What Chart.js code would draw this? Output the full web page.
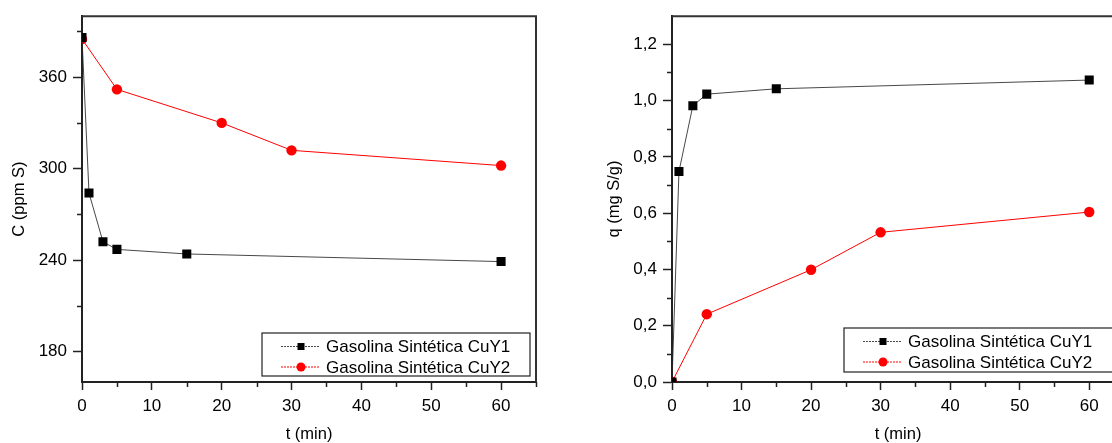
<!DOCTYPE html>
<html>
<head>
<meta charset="utf-8">
<script src="https://cdn.jsdelivr.net/npm/chart.js@4"></script>
<style>
  html, body { margin: 0; padding: 0; background: #fff; overflow: hidden; width: 1112px; height: 443px; }
  canvas { position: absolute; top: 0; }
  #chartC { left: 0; }
  #chartQ { left: 560px; }
</style>
</head>
<body>
<canvas id="chartC" width="556" height="443"></canvas>
<canvas id="chartQ" width="584" height="443"></canvas>
<script>
// Data
const seriesNames = ['Gasolina Sintética CuY1', 'Gasolina Sintética CuY2'];

const tCuY1 = [0, 1, 3, 5, 15, 60];
const tCuY2 = [0, 5, 20, 30, 60];

// concentration C (ppm S)
const cCuY1 = [386, 284, 252, 247, 244, 239];
const cCuY2 = [385, 352, 330, 312, 302];

// adsorbed q (mg S/g)
const qCuY1 = [0, 0.748, 0.982, 1.023, 1.042, 1.073];
const qCuY2 = [0, 0.241, 0.399, 0.532, 0.604];

// ticks
const tTicks = [0, 10, 20, 30, 40, 50, 60];
const tMinor = [5, 15, 25, 35, 45, 55, 65];
const cTicks = [180, 240, 300, 360];
const cMinor = [210, 270, 330, 390];
const qTicks = [0, 0.2, 0.4, 0.6, 0.8, 1.0, 1.2];
const qMinor = [0.1, 0.3, 0.5, 0.7, 0.9, 1.1];

const FONT = "'Liberation Sans', Arial, sans-serif";
const black = 'rgba(40,40,40,0.85)';
const red = '#ff0000';

const pts = (xs, ys) => xs.map((x, i) => ({ x: x, y: ys[i] }));

// minor ticks + top/right frame
const framePlugin = {
    id: 'frame',
    afterDraw(chart) {
        const { ctx, chartArea: a, scales } = chart;
        const o = chart.options.plugins.frame;
        ctx.save();
        ctx.strokeStyle = '#222';
        ctx.lineWidth = 1.5;
        ctx.beginPath();
        o.minorX.forEach(v => {
            const px = Math.round(scales.x.getPixelForValue(v)) + 0.5;
            ctx.moveTo(px, a.bottom);
            ctx.lineTo(px, a.bottom + 5);
        });
        o.minorY.forEach(v => {
            const py = Math.round(scales.y.getPixelForValue(v)) + 0.5;
            ctx.moveTo(a.left, py);
            ctx.lineTo(a.left - 5, py);
        });
        ctx.stroke();
        ctx.strokeStyle = '#333';
        ctx.lineWidth = 2;
        ctx.beginPath();
        ctx.moveTo(a.left, a.top);
        ctx.lineTo(a.right, a.top);
        ctx.lineTo(a.right, a.bottom);
        ctx.stroke();
        ctx.restore();
    }
};

// boxed legend inside the plot, bottom right
const boxLegend = {
    id: 'boxLegend',
    afterDraw(chart) {
        const { ctx, chartArea: a } = chart;
        const o = chart.options.plugins.boxLegend;
        const x0 = a.right - o.right - o.width;
        const y0 = a.bottom - o.bottom - o.height;
        ctx.save();
        ctx.fillStyle = '#fff';
        ctx.fillRect(x0, y0, o.width, o.height);
        ctx.strokeStyle = '#222';
        ctx.lineWidth = 1.2;
        ctx.strokeRect(x0, y0, o.width, o.height);
        chart.data.datasets.forEach((ds, i) => {
            const cy = y0 + 13.5 + i * 20.5;
            ctx.strokeStyle = ds.borderColor;
            ctx.lineWidth = 1;
            ctx.setLineDash([2, 1]);
            ctx.beginPath();
            ctx.moveTo(x0 + 19, cy);
            ctx.lineTo(x0 + 58, cy);
            ctx.stroke();
            ctx.setLineDash([]);
            ctx.fillStyle = ds.pointBackgroundColor;
            if (ds.pointStyle === 'rect') {
                ctx.fillRect(x0 + 35.5, cy - 3.5, 7, 7);
            } else {
                ctx.beginPath();
                ctx.arc(x0 + 39, cy, 4.5, 0, Math.PI * 2);
                ctx.fill();
            }
            ctx.fillStyle = '#000';
            ctx.font = '17px ' + FONT;
            ctx.textBaseline = 'middle';
            ctx.fillText(ds.label, x0 + 64, cy + 1);
        });
        ctx.restore();
    }
};

function makeChart(id, o) {
    const ctx = document.getElementById(id).getContext('2d');
    return new Chart(ctx, {
        type: 'line',
        data: {
            datasets: [{
                label: seriesNames[0],
                data: pts(tCuY1, o.y1),
                borderColor: black,
                borderWidth: 1,
                pointStyle: 'rect',
                pointRadius: 6.4,
                pointBorderWidth: 0,
                pointBackgroundColor: '#000',
                tension: 0
            }, {
                label: seriesNames[1],
                data: pts(tCuY2, o.y2),
                borderColor: red,
                borderWidth: 1,
                pointStyle: 'circle',
                pointRadius: 5.2,
                pointBorderWidth: 0,
                pointBackgroundColor: red,
                tension: 0
            }]
        },
        options: {
            responsive: false,
            devicePixelRatio: 1,
            animation: false,
            layout: { padding: { left: 0, top: 16, right: 20, bottom: 0 } },
            scales: {
                x: {
                    type: 'linear',
                    min: 0,
                    max: 65,
                    afterBuildTicks: s => { s.ticks = tTicks.map(v => ({ value: v })); },
                    afterFit: s => { s.height = 61; },
                    grid: { drawOnChartArea: false, drawTicks: true, tickLength: 8, tickWidth: 1.5, tickColor: '#222' },
                    border: { display: true, color: '#222', width: 2 },
                    ticks: { color: '#000', padding: 6, maxRotation: 0, font: { family: FONT, size: 17 } },
                    title: { display: true, text: 't (min)', color: '#000', padding: { bottom: 0, top: 0 },
                             font: { family: FONT, size: 16.5, lineHeight: 1 } }
                },
                y: {
                    type: 'linear',
                    min: o.ymin,
                    max: o.ymax,
                    afterBuildTicks: s => { s.ticks = o.ticks.map(v => ({ value: v })); },
                    afterFit: s => { s.width = o.yWidth; },
                    grid: { drawOnChartArea: false, drawTicks: true, tickLength: 9, tickWidth: 1.5, tickColor: '#222' },
                    border: { display: true, color: '#222', width: 2 },
                    ticks: { color: '#000', padding: 6, font: { family: FONT, size: 17 }, callback: o.fmt },
                    title: { display: true, text: o.title, color: '#000', padding: { top: o.titlePad, bottom: 0 },
                             font: { family: FONT, size: 16.5, lineHeight: 1 } }
                }
            },
            plugins: {
                legend: { display: false },
                tooltip: { enabled: false },
                frame: { minorX: tMinor, minorY: o.minor },
                boxLegend: o.legend
            }
        },
        plugins: [framePlugin, boxLegend]
    });
}

makeChart('chartC', {
    y1: cCuY1, y2: cCuY2,
    ymin: 160, ymax: 400,
    ticks: cTicks, minor: cMinor,
    fmt: v => String(v),
    title: 'C (ppm S)',
    yWidth: 82,
    titlePad: 11.5,
    legend: { right: 6, bottom: 6, width: 268, height: 43 }
});

makeChart('chartQ', {
    y1: qCuY1, y2: qCuY2,
    ymin: 0, ymax: 1.3,
    ticks: qTicks, minor: qMinor,
    fmt: v => v.toFixed(1).replace('.', ','),
    title: 'q (mg S/g)',
    yWidth: 112,
    titlePad: 46.5,
    legend: { right: 6, bottom: 10, width: 274, height: 44 }
});
</script>
</body>
</html>
